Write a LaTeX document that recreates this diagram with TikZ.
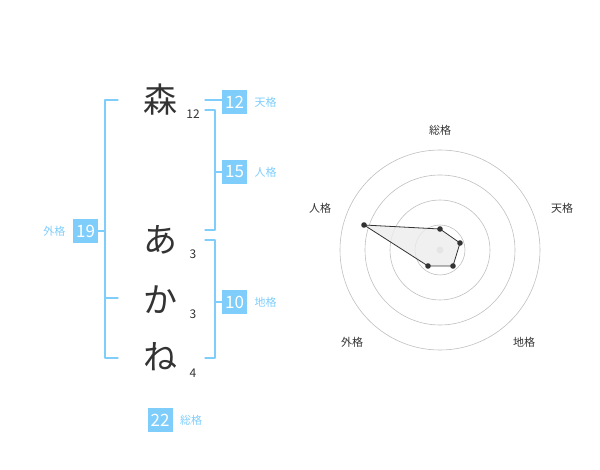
\documentclass[tikz,border=0pt]{standalone}
\usepackage{fontspec}
\setmainfont{Noto Sans CJK JP}
\usetikzlibrary{positioning}
\definecolor{kakublue}{HTML}{7FCDFB}
\definecolor{kakutext}{HTML}{333333}
\tikzset{
  numbox/.style={fill=kakublue,text=white,minimum width=25pt,minimum height=24pt,inner sep=0pt,font=\fontsize{17}{17}\selectfont},
  kakulabel/.style={text=kakublue,font=\fontsize{11}{11}\selectfont},
  moji/.style={text=kakutext,font=\fontsize{34}{34}\selectfont},
  kaku/.style={text=kakutext,font=\fontsize{12}{12}\selectfont},
  brace/.style={draw=kakublue,line width=1.2pt},
  radarlabel/.style={text=kakutext,font=\fontsize{11}{11}\selectfont}
}
\begin{document}
\begin{tikzpicture}[x=1pt,y=-1pt,line cap=round,line join=round]
\useasboundingbox (0,0) rectangle (600,470);
% characters
\node[moji] (m1) at (160,100) {森};
\node[moji] (m2) at (160,240) {あ};
\node[moji] (m3) at (160,300) {か};
\node[moji] (m4) at (160,357) {ね};
\node[kaku] (k1) at (193,114) {12};
\node[kaku] (k2) at (193,254) {3};
\node[kaku] (k3) at (193,314) {3};
\node[kaku] (k4) at (193,373) {4};
% brackets
\draw[brace] (118,100) -- (105,100) -- (105,358) -- (118,358);
\draw[brace] (105,298) -- (118,298);
\draw[brace] (205,110) -- (215,110) -- (215,230) -- (205,230);
\draw[brace] (205,240) -- (215,240) -- (215,358) -- (205,358);
\draw[brace] (205,100) -- (222,100);
\draw[brace] (215,172) -- (222,172);
\draw[brace] (215,302) -- (222,302);
\draw[brace] (98,231) -- (105,231);
% boxes
\node[numbox] (ten) at (234.5,102) {12};
\node[kakulabel,right=4pt of ten] {天格};
\node[numbox] (jin) at (234.5,172) {15};
\node[kakulabel,right=4pt of jin] {人格};
\node[numbox] (chi) at (234.5,302) {10};
\node[kakulabel,right=4pt of chi] {地格};
\node[numbox] (gai) at (85.5,231) {19};
\node[kakulabel,left=4pt of gai] {外格};
\node[numbox] (sou) at (160,420) {22};
\node[kakulabel,right=4pt of sou] {総格};
% radar
\foreach \r in {25,50,75,100}
  \draw[gray!50,line width=0.6pt] (440,250) circle (\r);
\fill[gray!40] (440,250) circle (3.5);
\node[radarlabel] at (440,130) {総格};
\node[radarlabel] at (562,208) {天格};
\node[radarlabel] at (524,342) {地格};
\node[radarlabel] at (352,342) {外格};
\node[radarlabel] at (320,208) {人格};
\draw[kakutext,line width=0.8pt,fill=gray!15,fill opacity=0.8]
  (440,229) -- (460,243) -- (453,266) -- (428,266) -- (364,225) -- cycle;
\foreach \p in {(440,229),(460,243),(453,266),(428,266),(364,225)}
  \fill[kakutext] \p circle (2.8);
\end{tikzpicture}
\end{document}
